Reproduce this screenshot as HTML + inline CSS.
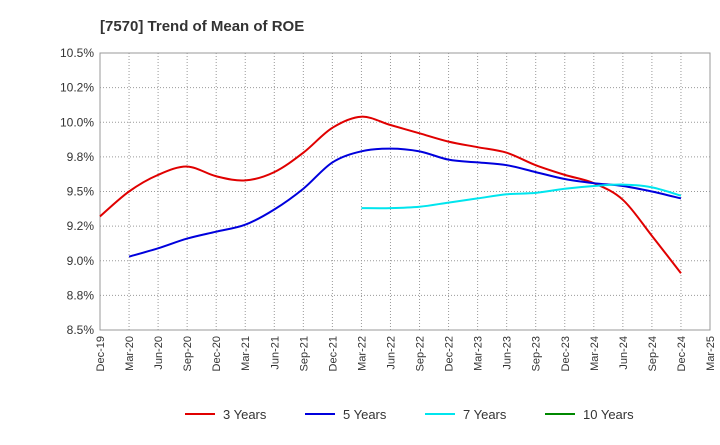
<!DOCTYPE html>
<html><head><meta charset="utf-8"><style>
body{margin:0;background:#fff;font-family:"Liberation Sans",sans-serif}
</style></head><body>
<svg id="c" width="720" height="440" xmlns="http://www.w3.org/2000/svg" style="font-family:'Liberation Sans',sans-serif">
<text x="100" y="31" font-size="15" font-weight="bold" fill="#333">[7570]  Trend of Mean of ROE</text>
<g id="grid"></g><g id="axes"></g><g id="series"></g><g id="legend"></g>
</svg>
<script>
const xLabels=["Dec-19","Mar-20","Jun-20","Sep-20","Dec-20","Mar-21","Jun-21","Sep-21","Dec-21","Mar-22","Jun-22","Sep-22","Dec-22","Mar-23","Jun-23","Sep-23","Dec-23","Mar-24","Jun-24","Sep-24","Dec-24","Mar-25"];
const yTicks=[8.5,8.75,9.0,9.25,9.5,9.75,10.0,10.25,10.5];
const yTickLabels=["8.5%","8.8%","9.0%","9.2%","9.5%","9.8%","10.0%","10.2%","10.5%"];
const s3=[9.32,9.50,9.62,9.68,9.61,9.58,9.64,9.78,9.96,10.04,9.98,9.92,9.86,9.82,9.78,9.69,9.62,9.56,9.44,9.18,8.91];
const s5=[null,9.03,9.09,9.16,9.21,9.26,9.37,9.52,9.71,9.79,9.81,9.79,9.73,9.71,9.69,9.64,9.59,9.56,9.54,9.50,9.45];
const s7=[null,null,null,null,null,null,null,null,null,9.38,9.38,9.39,9.42,9.45,9.48,9.49,9.52,9.54,9.55,9.53,9.47];
const s10=[];
const seriesNames=["3 Years","5 Years","7 Years","10 Years"];
const colors=["#e00000","#0000dd","#00e5ee","#008800"];
const L=100,R=710,T=53,B=330,NS="http://www.w3.org/2000/svg";
const xs=i=>L+(R-L)*i/(xLabels.length-1);
const ys=v=>B-(v-8.5)/2*(B-T);
function mk(t,a,p){const e=document.createElementNS(NS,t);for(const k in a)e.setAttribute(k,a[k]);p.appendChild(e);return e;}
const grid=document.getElementById('grid'),axes=document.getElementById('axes'),ser=document.getElementById('series'),leg=document.getElementById('legend');
mk('rect',{x:L,y:T,width:R-L,height:B-T,fill:'#fff',stroke:'#999'},grid);
xLabels.forEach((lb,i)=>{const x=xs(i);
 const g=mk('line',{x1:x,x2:x,y1:T,y2:B,stroke:'#999','stroke-dasharray':'1,2'},grid);
 
 const t=mk('text',{x:x+4,y:B+6,'font-size':11,fill:'#333','text-anchor':'end',transform:`rotate(-90 ${x+4} ${B+6})`},axes);
 t.textContent=lb;});
yTicks.forEach((v,i)=>{const y=ys(v);
 const g=mk('line',{x1:L,x2:R,y1:y,y2:y,stroke:'#999','stroke-dasharray':'1,2'},grid);
 
 const t=mk('text',{x:L-6,y:y+4,'font-size':12,fill:'#333','text-anchor':'end'},axes);
 t.textContent=yTickLabels[i];});
function path(pts){let d=`M${pts[0][0]},${pts[0][1]}`;for(let i=0;i<pts.length-1;i++){const p0=pts[i-1]||pts[i],p1=pts[i],p2=pts[i+1],p3=pts[i+2]||p2;
 d+=`C${p1[0]+(p2[0]-p0[0])/6},${p1[1]+(p2[1]-p0[1])/6} ${p2[0]-(p3[0]-p1[0])/6},${p2[1]-(p3[1]-p1[1])/6} ${p2[0]},${p2[1]}`;}return d;}
[s3,s5,s7,s10].forEach((s,k)=>{const pts=[];s.forEach((v,i)=>{if(v!=null)pts.push([xs(i),ys(v)]);});
 if(pts.length<2)return;const p=mk('path',{d:path(pts),fill:'none',stroke:colors[k],'stroke-width':2},ser);
 });
const lx=[185,305,425,545];
seriesNames.forEach((n,k)=>{const g=mk('g',{},leg);
 mk('line',{x1:lx[k],x2:lx[k]+30,y1:414,y2:414,stroke:colors[k],'stroke-width':2},g);
 const t=mk('text',{x:lx[k]+38,y:419,'font-size':13,fill:'#333'},g);t.textContent=n;});
</script>
</body></html>
